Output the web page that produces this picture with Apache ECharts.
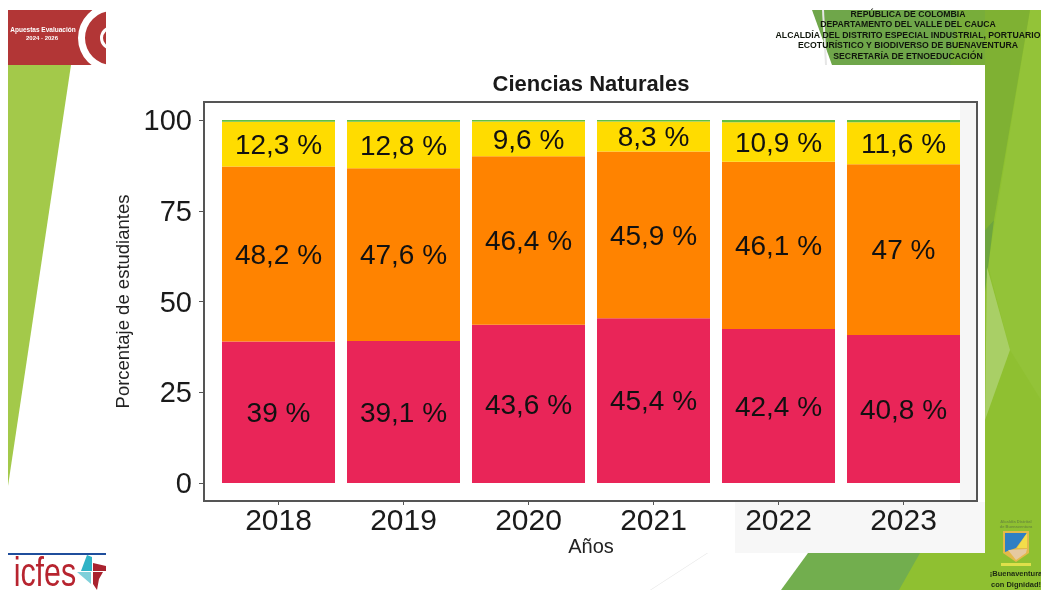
<!DOCTYPE html>
<html>
<head>
<meta charset="utf-8">
<style>html,body{margin:0;padding:0;background:#fff}#c{width:1041px;height:590px}</style>
<script src="https://cdn.jsdelivr.net/npm/echarts@6/dist/echarts.min.js"></script>
</head>
<body>
<div id="c"></div>
<script>
const years = ['2018','2019','2020','2021','2022','2023'];
const rojo = [39, 39.1, 43.6, 45.4, 42.4, 40.8];
const naranja = [48.2, 47.6, 46.4, 45.9, 46.1, 47];
const amarillo = [12.3, 12.8, 9.6, 8.3, 10.9, 11.6];
const verde = [0.5, 0.5, 0.4, 0.4, 0.6, 0.6];
const headerLines = ['REPÚBLICA DE COLOMBIA','DEPARTAMENTO DEL VALLE DEL CAUCA','ALCALDÍA DEL DISTRITO ESPECIAL INDUSTRIAL, PORTUARIO','ECOTURÍSTICO Y BIODIVERSO DE BUENAVENTURA','SECRETARÍA DE ETNOEDUCACIÓN'];

const FONT = '"Liberation Sans", Arial, sans-serif';
const poly = (points, fill, z) => ({type:'polygon', silent:true, z:z||1, shape:{points}, style:{fill}});
const rect = (x,y,width,height,fill,z) => ({type:'rect', silent:true, z:z||1, shape:{x,y,width,height}, style:{fill}});
const text = (x,y,t,size,fill,weight,align,z,family) => ({type:'text', silent:true, z:z||6, x, y, style:{text:t, fill, font:(weight||'normal')+' '+size+'px '+(family||FONT), textAlign:align||'center', textVerticalAlign:'middle'}});

const deco = [
  // left wedge
  poly([[8,65],[71,65],[8,486]],'#a3c94a',1),
  // right column
  rect(985,10,56,580,'#8fc031',1),
  poly([[1030,10],[1041,10],[1041,400],[1010,350],[988,265]],'#93c338',1),
  poly([[985,10],[1030,10],[994,220],[985,230]],'#7fb133',1),
  poly([[985,230],[994,220],[985,292]],'#6ea53f',1),
  poly([[985,420],[987,267],[1010,350]],'#a9cf66',1),
  // top dark band
  poly([[812,10],[985,10],[985,65],[832,65]],'#6fa64a',1),
  poly([[958,10],[985,10],[985,65],[950,65]],'#78ad3a',1),
  poly([[822,10],[824,10],[827,65],[825,65]],'#e6e6e6',1),
  // bottom bands
  poly([[781,590],[808,553],[985,553],[985,590]],'#72ae4e',1),
  poly([[899,590],[920,553],[1041,553],[1041,590]],'#8fc031',1),
  poly([[650,590],[651,590],[708,553],[707,553]],'#e6e6e6',1),
  // chart panel
  rect(106,65,879,488,'#ffffff',2),
  rect(735,502,250,51,'#f7f7f7',2),
  rect(960,103,17,397,'#f6f6f6',2),
  // top-left logo
  rect(8,10,98,55,'#b23636',3),
  {type:'ring',silent:true,z:3,shape:{cx:112,cy:38,r:34,r0:27},style:{fill:'#fff'}},
  {type:'ring',silent:true,z:3,shape:{cx:112,cy:38,r:12,r0:9},style:{fill:'#fff'}},
  rect(78,0,60,10,'#fff',3), rect(106,0,30,65,'#fff',3),
  poly([[78,65],[106,65],[106,73],[78,73]],'#fff',3),
  text(43,30.5,'Apuestas Evaluación',6.5,'#fff','bold'),
  text(42,38,'2024 - 2026',6,'#fff','bold'),
  // icfes logo
  rect(8,553,98,2,'#1f4e9c',3),
  Object.assign(text(11,575,'icfes',40,'#b7242f','normal','left',6), {originX:11, scaleX:0.76}),
  poly([[87,555],[92,557],[92,571],[81,571]],'#2fb3c6',3),
  poly([[77,572],[91,572],[91,584],[84,578]],'#7fd0da',3),
  poly([[93,563],[106,566],[106,571],[93,571]],'#a9232f',3),
  poly([[93,572],[103,572],[99,579],[97,590],[93,584]],'#a9232f',3),
  // shield
  poly([[1003,531],[1029,531],[1029,553],[1016,562],[1003,553]],'#e3b94b',3),
  poly([[1005,533],[1027,533],[1016,548],[1005,552]],'#2f7fc4',4),
  poly([[1027,533],[1027,548],[1017,548]],'#f3dd4a',4),
  poly([[1008,550],[1027,549],[1026,553],[1016,560]],'#e6c9a0',4),
  rect(1001,563,30,3,'#dfe04a',4),
  text(1016,522,'Alcaldía Distrital',4,'#6d8f3a','bold'),
  text(1016,526.5,'de Buenaventura',4,'#6d8f3a','bold'),
  text(1016,574,'¡Buenaventura',7.5,'#1d2a12','bold'),
  text(1016,585,'con Dignidad!',7.5,'#1d2a12','bold'),
  // header
  ...headerLines.map((t,i)=>text(908,14.3+i*10.6,t,8.7,'#10160c','bold')),
  // plot frame
  {type:'rect',silent:true,z:4,shape:{x:204,y:102,width:773,height:399},style:{fill:'none',stroke:'#555',lineWidth:2}}
];

const fmt = p => String(p.value).replace('.',',') + ' %';
const lab = {show:true, position:'inside', color:'#111', fontFamily:FONT, fontSize:28, formatter:fmt, offset:[0,2]};
const mk = (name,data,color,label) => ({name, type:'bar', stack:'t', z:5, data, barWidth:113, itemStyle:{color}, label:label||{show:false}, silent:true, animation:false});

const chart = echarts.init(document.getElementById('c'), null, {renderer:'canvas'});
chart.setOption({
  animation:false,
  backgroundColor:'#fff',
  title:{text:'Ciencias Naturales', left:586, top:69, textAlign:'center', z:8, textStyle:{fontFamily:FONT, fontWeight:'bold', fontSize:22, color:'#1a1a1a'}},
  grid:{left:216, right:75, top:120, bottom:107},
  xAxis:{type:'category', data:years, offset:18, z:8, name:'Años', nameLocation:'middle', nameGap:36, nameMoveOverlap:false,
    nameTextStyle:{fontFamily:FONT, fontSize:20, color:'#222'},
    axisLine:{show:false, onZero:false},
    axisTick:{show:true, alignWithLabel:true, length:4, lineStyle:{color:'#555',width:1}},
    axisLabel:{fontFamily:FONT, fontSize:30, color:'#1a1a1a', margin:6}},
  yAxis:{type:'value', min:0, max:100, interval:25, offset:13, z:8,
    name:'Porcentaje de estudiantes', nameLocation:'middle', nameGap:70, nameRotate:90, nameMoveOverlap:false,
    nameTextStyle:{fontFamily:FONT, fontSize:18.5, color:'#222'},
    axisLine:{show:false},
    axisTick:{show:true, length:4, lineStyle:{color:'#555',width:1}},
    splitLine:{show:false},
    axisLabel:{fontFamily:FONT, fontSize:29, color:'#1a1a1a', margin:11, verticalAlign:'top', lineHeight:4}},
  series:[
    mk('Rojo',rojo,'#e92558',lab),
    mk('Naranja',naranja,'#ff8300',lab),
    mk('Amarillo',amarillo,'#ffdc00',lab),
    mk('Verde',verde,'#63be45')
  ],
  graphic:{elements:deco}
});
</script>
</body>
</html>
